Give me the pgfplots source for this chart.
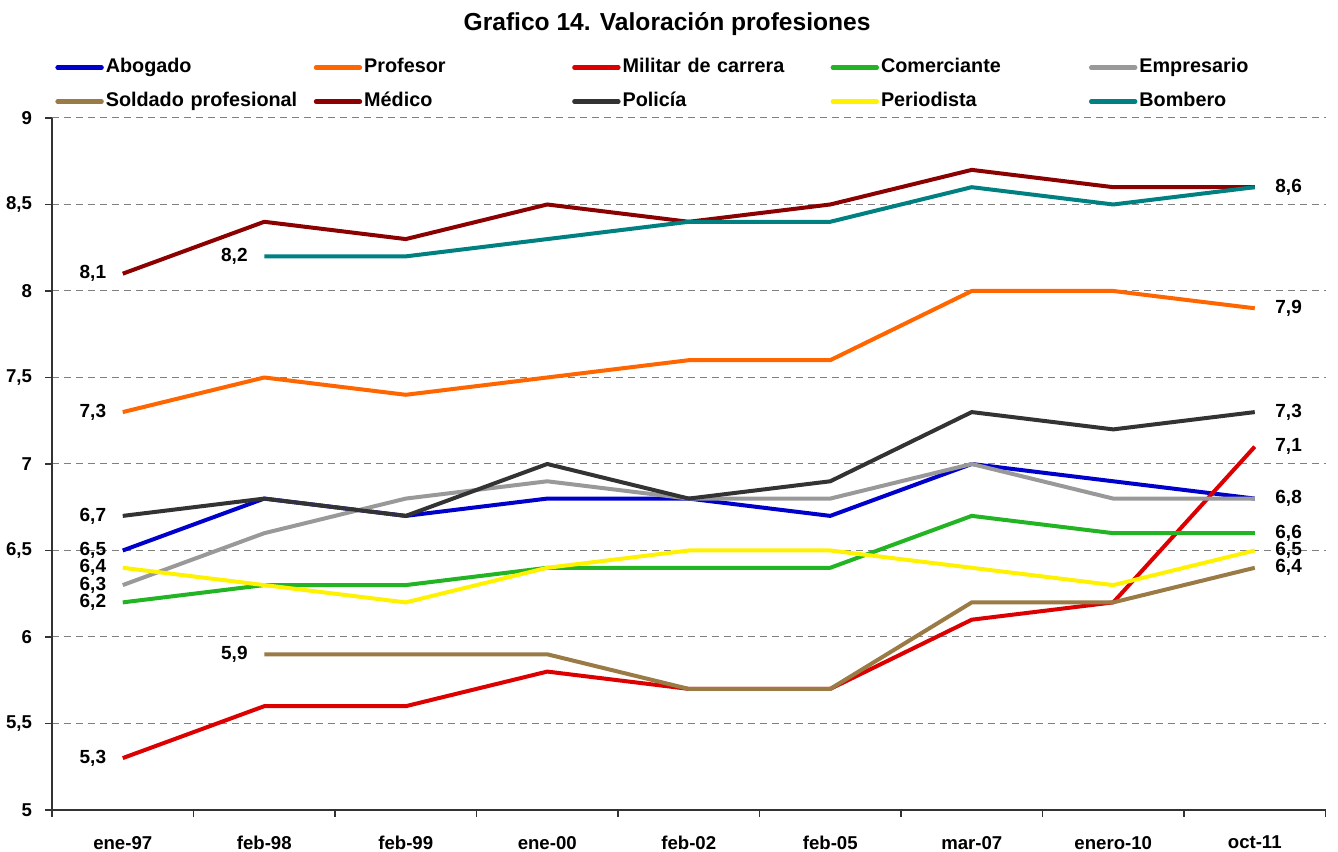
\documentclass[border=0pt]{standalone}
\usepackage{fontspec}
\setmainfont{Liberation Sans}
\usepackage{pgfplots}
\pgfplotsset{compat=1.18}
\definecolor{cAbo}{HTML}{0000CC}
\definecolor{cPro}{HTML}{FF6600}
\definecolor{cMil}{HTML}{DD0000}
\definecolor{cCom}{HTML}{22B422}
\definecolor{cEmp}{HTML}{999999}
\definecolor{cSol}{HTML}{9A7A45}
\definecolor{cMed}{HTML}{8B0000}
\definecolor{cPol}{HTML}{333333}
\definecolor{cPer}{HTML}{FFF200}
\definecolor{cBom}{HTML}{008080}
\tikzset{lbl/.style={font=\bfseries\fontsize{9.5}{11}\selectfont, text=black}}
\begin{document}
\begin{tikzpicture}
\begin{axis}[
  scale only axis, width=636.75pt, height=346pt,
  xmin=-0.5, xmax=8.5, ymin=5, ymax=9,
  clip=false,
  axis x line*=bottom, axis y line*=left,
  axis line style={-, black!80, line width=0.6pt},
  xtick={0,...,8},
  xticklabels={ene-97,feb-98,feb-99,ene-00,feb-02,feb-05,mar-07,enero-10,oct-11},
  minor xtick={-0.5,0.5,1.5,2.5,3.5,4.5,5.5,6.5,7.5,8.5},
  major x tick style={draw=none},
  minor x tick style={black!80, line width=0.6pt},
  ytick={5,5.5,...,9},
  y tick style={black!80, line width=0.6pt},
  tick align=outside, major tick length=3.5pt, minor tick length=3.5pt,
  ymajorgrids, grid style={black!50, line width=0.5pt, dash pattern=on 3.5pt off 2.5pt},
  /pgf/number format/.cd, use comma, assume math mode=true,
  /pgfplots/.cd,
  tick label style={font=\bfseries\fontsize{9.3}{11}\selectfont},
  xticklabel style={yshift=-6pt},
  yticklabel style={xshift=-3pt},
  legend columns=5,
  legend cell align=left,
  legend style={at={(0,1)}, anchor=south west, xshift=1.5pt, yshift=2pt, draw=none, fill=none,
    inner sep=0pt, column sep=0pt, row sep=5pt,
    font=\bfseries\fontsize{9.9}{12}\selectfont,
    nodes={text width=103pt, inner sep=1pt, text height=7.5pt, text depth=2.5pt}},
  legend image code/.code={\draw[line width=2.2pt, line cap=round] (0pt,0pt) -- (22pt,0pt);},
  every axis plot/.append style={line width=2pt, line join=round},
]
\addplot[cAbo] coordinates {(0,6.5)(1,6.8)(2,6.7)(3,6.8)(4,6.8)(5,6.7)(6,7.0)(7,6.9)(8,6.8)}
  node[pos=0, left, lbl, xshift=-4pt]{6,5} node[pos=1, right, lbl, xshift=6pt]{6,8};
\addlegendentry{Abogado}
\addplot[cPro] coordinates {(0,7.3)(1,7.5)(2,7.4)(3,7.5)(4,7.6)(5,7.6)(6,8.0)(7,8.0)(8,7.9)}
  node[pos=0, left, lbl, xshift=-4pt]{7,3} node[pos=1, right, lbl, xshift=6pt]{7,9};
\addlegendentry{Profesor}
\addplot[cMil] coordinates {(0,5.3)(1,5.6)(2,5.6)(3,5.8)(4,5.7)(5,5.7)(6,6.1)(7,6.2)(8,7.1)}
  node[pos=0, left, lbl, xshift=-4pt]{5,3} node[pos=1, right, lbl, xshift=6pt]{7,1};
\addlegendentry{Militar de carrera}
\addplot[cCom] coordinates {(0,6.2)(1,6.3)(2,6.3)(3,6.4)(4,6.4)(5,6.4)(6,6.7)(7,6.6)(8,6.6)}
  node[pos=0, left, lbl, xshift=-4pt]{6,2} node[pos=1, right, lbl, xshift=6pt]{6,6};
\addlegendentry{Comerciante}
\addplot[cEmp] coordinates {(0,6.3)(1,6.6)(2,6.8)(3,6.9)(4,6.8)(5,6.8)(6,7.0)(7,6.8)(8,6.8)}
  node[pos=0, left, lbl, xshift=-4pt]{6,3};
\addlegendentry{Empresario}
\addplot[cSol] coordinates {(1,5.9)(2,5.9)(3,5.9)(4,5.7)(5,5.7)(6,6.2)(7,6.2)(8,6.4)}
  node[pos=0, left, lbl, xshift=-4pt]{5,9} node[pos=1, right, lbl, xshift=6pt]{6,4};
\addlegendentry{Soldado profesional}
\addplot[cMed] coordinates {(0,8.1)(1,8.4)(2,8.3)(3,8.5)(4,8.4)(5,8.5)(6,8.7)(7,8.6)(8,8.6)}
  node[pos=0, left, lbl, xshift=-4pt]{8,1} node[pos=1, right, lbl, xshift=6pt]{8,6};
\addlegendentry{Médico}
\addplot[cPol] coordinates {(0,6.7)(1,6.8)(2,6.7)(3,7.0)(4,6.8)(5,6.9)(6,7.3)(7,7.2)(8,7.3)}
  node[pos=0, left, lbl, xshift=-4pt]{6,7} node[pos=1, right, lbl, xshift=6pt]{7,3};
\addlegendentry{Policía}
\addplot[cPer] coordinates {(0,6.4)(1,6.3)(2,6.2)(3,6.4)(4,6.5)(5,6.5)(6,6.4)(7,6.3)(8,6.5)}
  node[pos=0, left, lbl, xshift=-4pt]{6,4} node[pos=1, right, lbl, xshift=6pt]{6,5};
\addlegendentry{Periodista}
\addplot[cBom] coordinates {(1,8.2)(2,8.2)(3,8.3)(4,8.4)(5,8.4)(6,8.6)(7,8.5)(8,8.6)}
  node[pos=0, left, lbl, xshift=-4pt]{8,2};
\addlegendentry{Bombero}
\node[anchor=center, yshift=47pt, font=\bfseries\fontsize{12.3}{14}\selectfont] at (rel axis cs:0.483,1) {Grafico 14. Valoración profesiones};
\end{axis}
\pgfresetboundingbox
\path[use as bounding box] ([xshift=-26pt,yshift=-21pt]current axis.south west) rectangle ([xshift=6.25pt,yshift=59pt]current axis.north east);
\end{tikzpicture}
\end{document}
